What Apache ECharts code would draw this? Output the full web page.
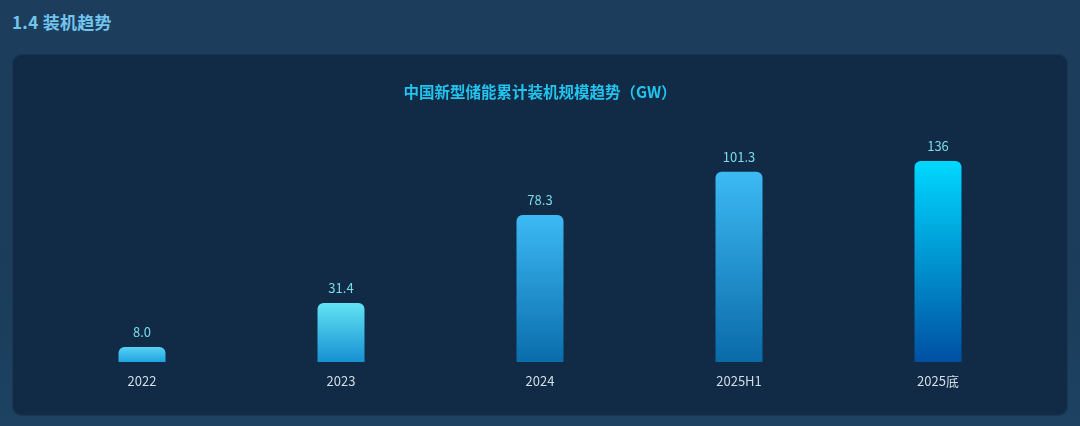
<!DOCTYPE html>
<html>
<head>
<meta charset="utf-8">
<script src="https://cdn.jsdelivr.net/npm/echarts@6/dist/echarts.min.js"></script>
<style>
  html, body { margin: 0; padding: 0; width: 1080px; height: 426px; overflow: hidden; }
  body {
    background: linear-gradient(180deg, #1c3d5b 0%, #1b3c5a 60%, #1d4262 100%);
    font-family: "Noto Sans CJK SC", "Noto Sans", sans-serif;
    position: relative;
  }
  .head {
    position: absolute; left: 12px; top: 9px;
    font-size: 17px; font-weight: bold; color: #72c4ee; letter-spacing: 0.3px;
  }
  .panel {
    position: absolute; left: 12px; top: 54px; width: 1056px; height: 362px;
    background: #112a45; border-radius: 10px;
    box-shadow: inset 0 0 0 1px rgba(90, 150, 200, 0.12);
  }
  #chart { width: 1056px; height: 362px; }
</style>
</head>
<body>
<div class="head">1.4 装机趋势</div>
<div class="panel"><div id="chart"></div></div>
<script>
// 数据
var years = ['2022', '2023', '2024', '2025H1', '2025底'];
var capacity = [8.0, 31.4, 78.3, 101.3, 136];

// 每根柱子的渐变色（上、下）
var barTop = ['#58d2f4', '#62e3f4', '#3cbaf4', '#3cbaf4', '#00d8ff'];
var barBottom = ['#1fa4e2', '#1690d2', '#0a6cab', '#0a6aa8', '#0050a2'];

var chart = echarts.init(document.getElementById('chart'));

var items = capacity.map(function (v, i) {
    return {
        value: v,
        itemStyle: {
            color: new echarts.graphic.LinearGradient(0, 0, 0, 1, [
                { offset: 0, color: barTop[i] },
                { offset: 1, color: barBottom[i] }
            ])
        }
    };
});

var option = {
    title: {
        text: '中国新型储能累计装机规模趋势（GW）',
        left: 'center',
        top: 30,
        padding: 0,
        textStyle: {
            color: '#22c4ee',
            fontSize: 15.5,
            fontWeight: 'bold',
            fontFamily: 'Noto Sans CJK SC'
        }
    },
    grid: {
        left: 30.5,
        right: 30.5,
        top: 107,
        bottom: 54
    },
    xAxis: {
        type: 'category',
        data: years,
        axisLine: { show: false },
        axisTick: { show: false },
        axisLabel: {
            color: '#d3dde8',
            fontSize: 13,
            margin: 13,
            fontFamily: 'Noto Sans CJK SC'
        }
    },
    yAxis: {
        type: 'value',
        min: 0,
        max: 107,
        show: false,
        splitLine: { show: false }
    },
    series: [
        {
            type: 'bar',
            data: items,
            barWidth: 47,
            clip: true,
            itemStyle: { borderRadius: [6, 6, 0, 0] },
            label: {
                show: true,
                position: 'top',
                distance: 8,
                color: '#7adcec',
                fontSize: 13,
                fontFamily: 'Noto Sans CJK SC',
                formatter: function (p) {
                    return p.dataIndex === 4 ? String(p.value) : p.value.toFixed(1);
                }
            }
        }
    ]
};

chart.setOption(option);
</script>
</body>
</html>
